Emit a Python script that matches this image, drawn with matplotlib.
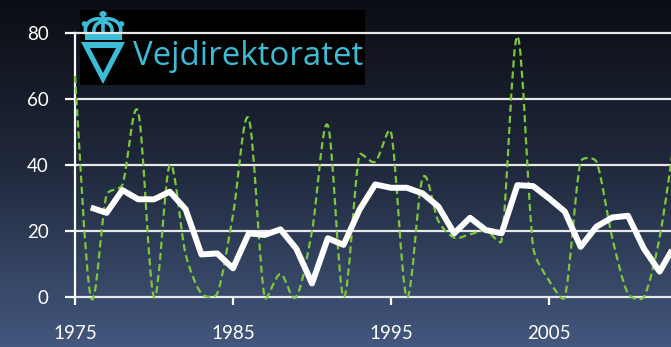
import numpy as np
import matplotlib
matplotlib.use('Agg')
import matplotlib.pyplot as plt
from matplotlib.path import Path
from matplotlib.patches import PathPatch, Rectangle, Circle

# Данные
years = list(range(1975, 2014))
green_vals = [67, 0, 31, 34, 56, 0, 40, 13, 1, 1,
              25, 54, 0, 7, 0, 20, 52, 0, 43, 41,
              50, 0, 36, 23, 18, 19, 20, 17, 79, 15,
              5, 0, 41, 41, 18, 1, 0, 18, 50]
white_years = list(range(1976, 2014))
white_vals = [27.1, 25.5, 32.4, 29.6, 29.6, 31.9, 26.6, 12.9, 13.2,
              8.7, 19.3, 18.8, 20.5, 14.7, 4.1, 17.8, 15.8, 26.4, 34.1,
              33.1, 33.1, 31.4, 27.4, 19.3, 24.0, 20.3, 19.3, 33.9, 33.6,
              29.9, 25.9, 15.2, 21.3, 24.1, 24.6, 14.7, 7.7, 16.0]
x_ticks = [1975, 1985, 1995, 2005]
y_ticks = [0, 20, 40, 60, 80]

W, H = 671, 347
cyan = '#3bbdd8'
green = '#7cc83a'
px_x, px_y = 15.8, 3.3   # пикселей на год и на единицу


def smooth_path(xs, ys):
    # сглаженная линия: Катмулл-Ром, касательная ограничена длиной короткого отрезка
    pts = np.column_stack([np.array(xs) * px_x, np.array(ys) * px_y]).astype(float)
    n = len(pts)

    def ctrl(i, j):
        # контрольная точка у pts[i] в сторону pts[j]
        a = pts[max(i - 1, 0)]
        b = pts[min(i + 1, n - 1)]
        d = (b - a) / 6
        span = np.hypot(*(b - a))
        seg = np.hypot(*(pts[j] - pts[i]))
        f = min(1.0, 2 * seg / span) if span > 0 else 0
        return pts[i] + d * f * (1 if j > i else -1)

    verts = [pts[0]]
    codes = [Path.MOVETO]
    for i in range(n - 1):
        verts += [ctrl(i, i + 1), ctrl(i + 1, i), pts[i + 1]]
        codes += [Path.CURVE4] * 3
    verts = np.array(verts) / [px_x, px_y]
    return Path(verts, codes)


fig = plt.figure(figsize=(W / 100, H / 100), dpi=100)

# фон - градиент сверху вниз
bg = fig.add_axes([0, 0, 1, 1], zorder=0)
stops = np.array([[10, 13, 19], [33, 42, 62], [67, 88, 126]]) / 255
t = np.linspace(0, 1, 300)
grad = np.stack([np.interp(t, [0, 0.5, 1], stops[:, c]) for c in range(3)], axis=1)
bg.imshow(grad[:, None, :], aspect='auto', extent=[0, 1, 0, 1])
bg.axis('off')

# логотип
lg = fig.add_axes([80 / W, 1 - 85 / H, 285 / W, 75 / H], zorder=1)
lg.set_xlim(80, 365)
lg.set_ylim(85, 10)
lg.set_facecolor('black')
lg.set_xticks([])
lg.set_yticks([])
for s in lg.spines.values():
    s.set_visible(False)

tri = Path([(81, 42), (125, 42), (103, 84), (81, 42),
            (90, 48), (103, 73), (116, 48), (90, 48)],
           [Path.MOVETO, Path.LINETO, Path.LINETO, Path.CLOSEPOLY,
            Path.MOVETO, Path.LINETO, Path.LINETO, Path.CLOSEPOLY])
lg.add_patch(PathPatch(tri, facecolor=cyan, edgecolor='none'))
lg.add_patch(Rectangle((85, 33), 37, 7, facecolor=cyan, edgecolor='none'))
crown = Path([(86, 34), (82, 22), (96, 16), (103, 20),
              (120, 34), (124, 22), (110, 16), (103, 20),
              (94, 34), (93, 26), (97, 22), (103, 22),
              (112, 34), (113, 26), (109, 22), (103, 22),
              (103, 34), (103, 11),
              (99.5, 14), (106.5, 14)],
             [Path.MOVETO, Path.CURVE4, Path.CURVE4, Path.CURVE4] * 4 +
             [Path.MOVETO, Path.LINETO] * 2)
lg.add_patch(PathPatch(crown, facecolor='none', edgecolor=cyan, lw=2.6))
lg.add_patch(Circle((84.5, 24), 2.8, facecolor=cyan, edgecolor='none'))
lg.add_patch(Circle((121.5, 24), 2.8, facecolor=cyan, edgecolor='none'))
lg.text(133, 65, 'Vejdirektoratet', fontsize=23.8, color=cyan,
        family='Open Sans', va='baseline', ha='left', clip_on=True)

# основной график
x_right = 1975 + (W - 75) / px_x
ax = fig.add_axes([75 / W, 1 - 297 / H, 1 - 75 / W, 264 / H], zorder=2)
ax.patch.set_alpha(0)
ax.set_xlim(1975, x_right)
ax.set_ylim(0, 80)

for yv in y_ticks:
    ax.axhline(yv, color='#e8e8e8', lw=1.6, zorder=1, clip_on=False)

ax.add_patch(PathPatch(smooth_path(years, green_vals), facecolor='none',
                       edgecolor=green, lw=1.6, linestyle=(0, (3.2, 1.8)),
                       zorder=3, clip_on=False))
ax.plot(white_years, white_vals, color='white', lw=4.3,
        solid_joinstyle='round', solid_capstyle='butt', zorder=4, clip_on=False)

for side in ['top', 'right', 'bottom']:
    ax.spines[side].set_visible(False)
ax.spines['left'].set_color('white')
ax.spines['left'].set_linewidth(1.6)

ax.set_xticks(x_ticks)
ax.set_xticklabels([str(v) for v in x_ticks])
ax.set_yticks(y_ticks)
ax.tick_params(axis='x', colors='white', length=6, width=1.6, pad=14,
               labelsize=13.5)
ax.tick_params(axis='y', colors='white', length=7, width=1.6, pad=12,
               labelsize=13.5)
for lab in ax.get_xticklabels() + ax.get_yticklabels():
    lab.set_family('Lato')

fig.savefig('out.png', dpi=100)
